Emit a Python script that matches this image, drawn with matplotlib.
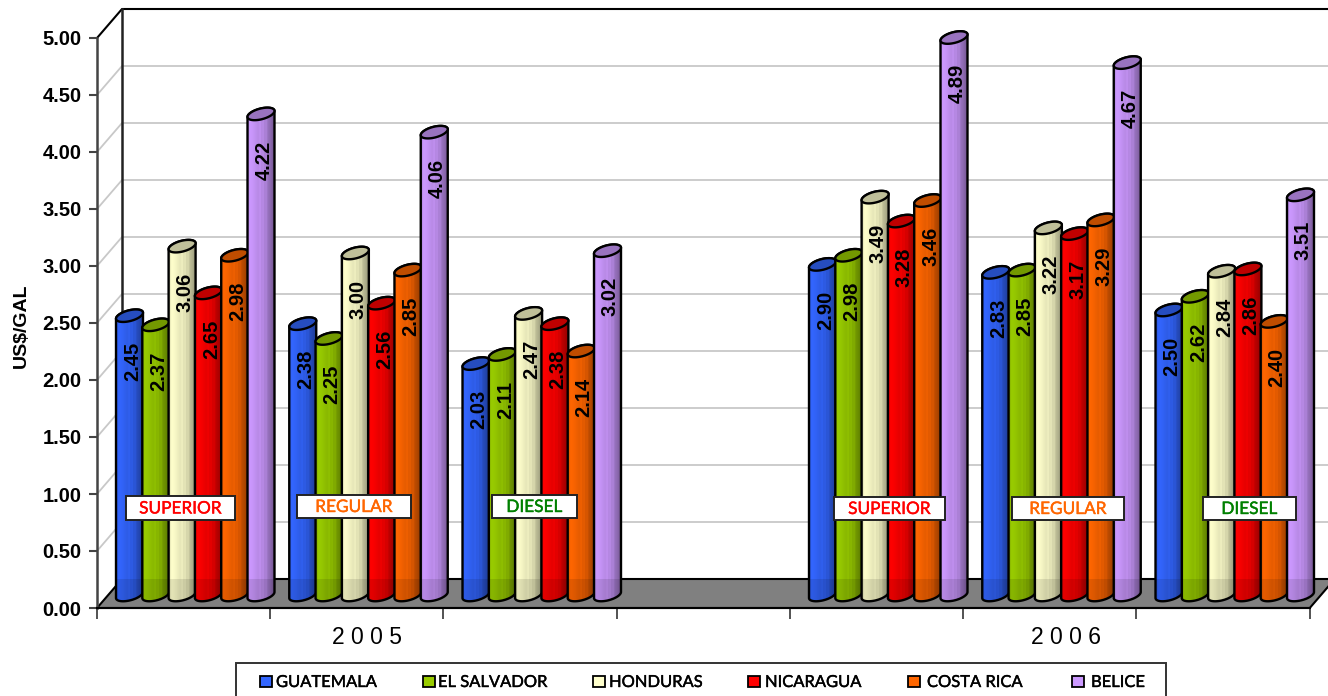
import numpy as np
import matplotlib
matplotlib.use('Agg')
import matplotlib.pyplot as plt
import matplotlib.patheffects as pe
from matplotlib.patches import Polygon, Rectangle
from matplotlib.transforms import Affine2D

years = ['2 0 0 5', '2 0 0 6']
fuels = ['SUPERIOR', 'REGULAR', 'DIESEL', 'SUPERIOR', 'REGULAR', 'DIESEL']
countries = ['GUATEMALA', 'EL SALVADOR', 'HONDURAS', 'NICARAGUA', 'COSTA RICA', 'BELICE']
guatemala = [2.45, 2.38, 2.03, 2.90, 2.83, 2.50]
el_salvador = [2.37, 2.25, 2.11, 2.98, 2.85, 2.62]
honduras = [3.06, 3.00, 2.47, 3.49, 3.22, 2.84]
nicaragua = [2.65, 2.56, 2.38, 3.28, 3.17, 2.86]
costa_rica = [2.98, 2.85, 2.14, 3.46, 3.29, 2.40]
belice = [4.22, 4.06, 3.02, 4.89, 4.67, 3.51]
series = [guatemala, el_salvador, honduras, nicaragua, costa_rica, belice]
categories = [0, 1, 2, 4, 5, 6]  # category 3 stays empty between the years
y_ticks = [0, 0.5, 1, 1.5, 2, 2.5, 3, 3.5, 4, 4.5, 5]

colors = ['#3366ff', '#99cc00', '#ffffcc', '#ff0000', '#ff6600', '#cc99ff']
fuel_colors = ['#ff0000', '#ff6600', '#008000', '#ff0000', '#ff6600', '#008000']

W, H = 1328, 696
PX_X = 173.25   # pixels per category
PX_Y = 114.0    # pixels per US$
X0, Y0 = 97, 608
DX, DY = 25, 29  # depth of the 3d box
BAR_W = 27
BAR_STEP = 26.3
BAR_START = 19
BAR_LIFT = 13 / PX_Y

label_font = ['Liberation Sans', 'DejaVu Sans']
box_font = ['Lato', 'DejaVu Sans']

# shading across a cylinder, left to right
shade_t = [0, .08, .2, .42, .5, .55, .6, .66, .72, .78, .86, 1]
shade_v = [.82, 1.0, .98, .9, .95, .86, .92, .82, .86, .74, .7, .58]
shade = np.interp(np.linspace(0, 1, 54), shade_t, shade_v)

fig = plt.figure(figsize=(W / 100, H / 100), dpi=100)
ax = fig.add_axes([0, 0, 1, 1])
ax.patch.set_alpha(0)
pix = Affine2D().scale(1 / W, -1 / H).translate(0, 1) + fig.transFigure


def dx(px):
    return px / PX_X


def dy(px):
    return px / PX_Y


# back wall grid and floor
wall_x = dx(DX)
wall_y = dy(DY)
right = 7 + wall_x
for v in y_ticks[1:-1]:
    ax.plot([0, wall_x, right], [v, v + wall_y, v + wall_y], color='#c8c8c8', lw=1.3, zorder=1)
ax.plot([0, wall_x, right], [5, 5 + wall_y, 5 + wall_y], color='black', lw=1.5, zorder=1)
ax.plot([wall_x, wall_x], [wall_y, 5 + wall_y], color='#222222', lw=1.8, zorder=1)
ax.add_patch(Polygon([[0, 0], [wall_x, wall_y], [right, wall_y], [7, 0]],
                     closed=True, fc='#808080', ec='black', lw=1.5, zorder=1.5))


def cylinder(x_c, top, color, z):
    a, b, k = BAR_W / 2, 5.5, 3.0
    t = np.linspace(0, np.pi, 40)
    # bottom arc left to right, top arc right to left, right side sits higher
    bx = x_c + dx(-a * np.cos(t))
    by = BAR_LIFT + dy(-b * np.sin(t) - k * np.cos(t))
    tx = x_c + dx(a * np.cos(t))
    ty = top + dy(b * np.sin(t) + k * np.cos(t))
    body = Polygon(np.column_stack([np.r_[bx, tx], np.r_[by, ty]]), closed=True,
                   fc='none', ec='black', lw=1.7, zorder=z + .2)
    ax.add_patch(body)
    rgb = np.array(matplotlib.colors.to_rgb(color))
    img = np.clip(shade[None, :, None] * rgb, 0, 1)
    im = ax.imshow(img, extent=[x_c - dx(a), x_c + dx(a), BAR_LIFT - dy(b + 3), top + dy(b + 3)],
                   aspect='auto', interpolation='bilinear', zorder=z)
    im.set_clip_path(body)
    # part of the cylinder in front of the floor back edge is a bit darker
    low = Rectangle((x_c - dx(a), BAR_LIFT - dy(b + 3)), dx(2 * a), wall_y - BAR_LIFT + dy(b + 3),
                    fc='black', alpha=.1, ec='none', zorder=z + .1)
    ax.add_patch(low)
    low.set_clip_path(body)
    # top cap
    t2 = np.linspace(0, 2 * np.pi, 60)
    cap = np.column_stack([x_c + dx(a * np.cos(t2)), top + dy(b * np.sin(t2) + k * np.cos(t2))])
    ax.add_patch(Polygon(cap, closed=True, fc=rgb * .75, ec='black', lw=1.7, zorder=z + .3))


for i, cat in enumerate(categories):
    for j, vals in enumerate(series):
        x_c = cat + dx(BAR_START + BAR_W / 2 + BAR_STEP * j)
        top = vals[i] + BAR_LIFT
        z = 2 + (i * 6 + j) * .5
        cylinder(x_c, top, colors[j], z)
        ax.text(x_c + dx(3), top - dy(46), '%.2f' % vals[i], rotation=90, ha='center', va='center',
                family=label_font, fontweight='bold', fontsize=14.5, color='black', zorder=30)

# fuel boxes
box_pos = [(126, 496, 109, 24), (297, 495, 114, 23), (492, 495, 85, 23),
           (834, 497, 111, 23), (1012, 497, 112, 23), (1203, 497, 93, 23)]
for (bx, by, bw, bh), name, c in zip(box_pos, fuels, fuel_colors):
    fig.add_artist(Rectangle((bx, by), bw, bh, transform=pix, fc='white', ec='#222222', lw=1.4, zorder=40))
    fig.text(bx + bw / 2, by + bh / 2 + .5, name, transform=pix, ha='center', va='center', color=c,
             family=box_font, fontsize=12.4, zorder=41,
             path_effects=[pe.withStroke(linewidth=.3, foreground=c)])

# axes
ax.set_xlim(-X0 / PX_X, (W - X0) / PX_X)
ax.set_ylim((Y0 - H) / PX_Y, Y0 / PX_Y)
for s in ['top', 'right']:
    ax.spines[s].set_visible(False)
ax.spines['left'].set_position(('data', 0))
ax.spines['left'].set_bounds(0, 5)
ax.spines['left'].set_color('#444444')
ax.spines['left'].set_linewidth(1.8)
ax.spines['bottom'].set_position(('data', 0))
ax.spines['bottom'].set_bounds(0, 7)
ax.spines['bottom'].set_color('black')
ax.spines['bottom'].set_linewidth(1.5)
ax.set_yticks(y_ticks)
ax.set_yticklabels(['%.2f' % v for v in y_ticks], family=label_font, fontweight='bold', fontsize=14.5,
                   va='center_baseline')
ax.set_xticks(range(8))
ax.set_xticklabels([])
ax.tick_params(axis='y', length=6, width=1.5, color='#444444', pad=5)
ax.tick_params(axis='x', length=8, width=1.3, color='#444444')

fig.text(21, 326, 'US$/GAL', transform=pix, rotation=90, ha='center', va='center',
         family=label_font, fontweight='bold', fontsize=14)
fig.text(367, 637, years[0], transform=pix, ha='center', va='center', family=label_font, fontsize=16.5)
fig.text(1066, 637, years[1], transform=pix, ha='center', va='center', family=label_font, fontsize=16.5)

# legend
fig.add_artist(Rectangle((236, 663), 930, 60, transform=pix, fc='white', ec='#333333', lw=1.4))
swatch_x = [260, 423, 593, 748, 908, 1072]
text_x = [276, 438, 609, 765, 927, 1091]
for sx, tx, name, c in zip(swatch_x, text_x, countries, colors):
    fig.add_artist(Rectangle((sx, 676), 12, 11, transform=pix, fc=c, ec='black', lw=1.3))
    fig.text(tx, 682, name, transform=pix, ha='left', va='center', family=box_font, fontsize=11.9, color='black',
             path_effects=[pe.withStroke(linewidth=.3, foreground='black')])

fig.savefig('out.png', dpi=100)
